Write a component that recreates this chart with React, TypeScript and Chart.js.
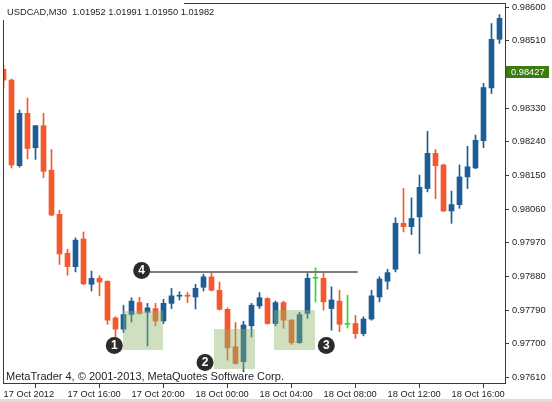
import React, { useEffect, useRef } from "react";
import { Chart, registerables } from "chart.js";

Chart.register(...registerables);

// ---- data (USDCAD, M30) ----
const times = (
  "17 Oct 12:00|17 Oct 12:30|17 Oct 13:00|17 Oct 13:30|17 Oct 14:00|17 Oct 14:30|17 Oct 15:00|17 Oct 15:30|" +
  "17 Oct 16:00|17 Oct 16:30|17 Oct 17:00|17 Oct 17:30|17 Oct 18:00|17 Oct 18:30|17 Oct 19:00|17 Oct 19:30|" +
  "17 Oct 20:00|17 Oct 20:30|17 Oct 21:00|17 Oct 21:30|17 Oct 22:00|17 Oct 22:30|17 Oct 23:00|17 Oct 23:30|" +
  "18 Oct 00:00|18 Oct 00:30|18 Oct 01:00|18 Oct 01:30|18 Oct 02:00|18 Oct 02:30|18 Oct 03:00|18 Oct 03:30|" +
  "18 Oct 04:00|18 Oct 04:30|18 Oct 05:00|18 Oct 05:30|18 Oct 06:00|18 Oct 06:30|18 Oct 07:00|18 Oct 07:30|" +
  "18 Oct 08:00|18 Oct 08:30|18 Oct 09:00|18 Oct 09:30|18 Oct 10:00|18 Oct 10:30|18 Oct 11:00|18 Oct 11:30|" +
  "18 Oct 12:00|18 Oct 12:30|18 Oct 13:00|18 Oct 13:30|18 Oct 14:00|18 Oct 14:30|18 Oct 15:00|18 Oct 15:30|" +
  "18 Oct 16:00|18 Oct 16:30|18 Oct 17:00|18 Oct 17:30|18 Oct 18:00|18 Oct 18:30|18 Oct 19:00"
).split("|");

const openP = [
  0.98434, 0.98405, 0.98176, 0.98316, 0.98224, 0.98283, 0.98164, 0.98046, 0.97942, 0.97906,
  0.9798, 0.97859, 0.97875, 0.97867, 0.97769, 0.97739, 0.97778, 0.9781, 0.97784, 0.97794,
  0.97761, 0.97808, 0.97827, 0.97829, 0.97825, 0.97851, 0.97879, 0.97843, 0.97792, 0.97692,
  0.97652, 0.97748, 0.97801, 0.97821, 0.97754, 0.9781, 0.97763, 0.97703, 0.97781, 0.97875,
  0.97875, 0.97794, 0.97814, 0.97752, 0.97754, 0.97727, 0.97766, 0.97825, 0.97867, 0.97899,
  0.98022, 0.98013, 0.98039, 0.98115, 0.98209, 0.98178, 0.98055, 0.98072, 0.98146, 0.9817,
  0.98243, 0.98384, 0.98514,
];
const highP = [
  0.98445, 0.98408, 0.98325, 0.98357, 0.98284, 0.98316, 0.98219, 0.98057, 0.97953, 0.97983,
  0.97999, 0.97894, 0.97882, 0.97868, 0.97772, 0.97803, 0.97823, 0.97824, 0.97808, 0.97808,
  0.97819, 0.97848, 0.97839, 0.97837, 0.97859, 0.97886, 0.97892, 0.97865, 0.97796, 0.97757,
  0.9776, 0.97808, 0.97837, 0.97823, 0.97814, 0.97814, 0.97765, 0.97784, 0.97888, 0.97903,
  0.97888, 0.97852, 0.97843, 0.9783, 0.97776, 0.97772, 0.97843, 0.97879, 0.97899, 0.98037,
  0.98115, 0.9809, 0.98151, 0.98268, 0.98219, 0.9818, 0.98108, 0.98178, 0.98228, 0.98258,
  0.98396, 0.98556, 0.9858,
];
const lowP = [
  0.98383, 0.9817, 0.98172, 0.98194, 0.98193, 0.98144, 0.98042, 0.97912, 0.97883, 0.97892,
  0.97858, 0.97841, 0.97828, 0.97752, 0.97714, 0.9773, 0.97758, 0.97779, 0.97694, 0.97748,
  0.97754, 0.97794, 0.97817, 0.9781, 0.97793, 0.97841, 0.97841, 0.9779, 0.97656, 0.97645,
  0.97625, 0.97718, 0.97794, 0.97752, 0.97748, 0.97741, 0.97698, 0.97701, 0.97768, 0.97812,
  0.9779, 0.97736, 0.97732, 0.97742, 0.97714, 0.97721, 0.97763, 0.97812, 0.97846, 0.97892,
  0.97999, 0.97992, 0.97941, 0.98106, 0.98088, 0.98053, 0.98022, 0.98062, 0.98115, 0.98168,
  0.98224, 0.98369, 0.98503,
];
const closeP = [
  0.98405, 0.98178, 0.98316, 0.98222, 0.98283, 0.98161, 0.98044, 0.9794, 0.97906, 0.97977,
  0.9786, 0.97875, 0.97865, 0.97763, 0.97739, 0.97778, 0.97814, 0.97781, 0.97796, 0.97761,
  0.97808, 0.97828, 0.97829, 0.97827, 0.97848, 0.97879, 0.97843, 0.97792, 0.97689, 0.97647,
  0.9775, 0.97803, 0.97823, 0.97754, 0.9781, 0.97763, 0.97703, 0.97778, 0.97875, 0.97875,
  0.97812, 0.97817, 0.97752, 0.97752, 0.97727, 0.97766, 0.97828, 0.97873, 0.9789, 0.98022,
  0.98013, 0.98035, 0.98118, 0.98209, 0.98176, 0.98055, 0.98072, 0.98146, 0.98173, 0.98244,
  0.98385, 0.98514, 0.9857,
];

const xTickCandles = ["17 Oct 12:00", "17 Oct 16:00", "17 Oct 20:00", "18 Oct 00:00", "18 Oct 04:00", "18 Oct 08:00", "18 Oct 12:00", "18 Oct 16:00"];
const xTickLabels = ["17 Oct 2012", "17 Oct 16:00", "17 Oct 20:00", "18 Oct 00:00", "18 Oct 04:00", "18 Oct 08:00", "18 Oct 12:00", "18 Oct 16:00"];
const yTickValues = [0.9761, 0.977, 0.9779, 0.9788, 0.9797, 0.9806, 0.9815, 0.9824, 0.9833, 0.9842, 0.9851, 0.986];

const headerText = "USDCAD,M30  1.01952 1.01991 1.01950 1.01982";
const watermark = "MetaTrader 4, \u00A9 2001-2013, MetaQuotes Software Corp.";
const currentPrice = 0.98427;

// annotation zones, in candle-number units and prices
const zoneStart = [15.94, 27.31, 34.81];
const zoneEnd = [20.94, 32.44, 39.94];
const zoneTop = [0.97787, 0.97739, 0.9779];
const zoneBottom = [0.97683, 0.97632, 0.97683];
const resistancePrice = 0.97892;
const resistanceFrom = 19.3;
const resistanceTo = 45.27;
const markerNums = ["1", "2", "3", "4"];
const markerPos = [14.85, 26.19, 41.35, 18.27];
const markerPrice = [0.97695, 0.9765, 0.97695, 0.97896];

const BULL = "#1c5d96";
const BEAR = "#f5582c";
const DOJI = "#33d633";
const FONT = "'Liberation Sans', Arial, sans-serif";
const NUM_SIZE = 9.3;

export default function App() {
  const ref = useRef<HTMLCanvasElement | null>(null);

  useEffect(() => {
    const canvas = ref.current;
    if (!canvas) return;
    const colors = openP.map((o, i) => (closeP[i] > o ? BULL : closeP[i] < o ? BEAR : DOJI));
    const idx = (t: string) => times.indexOf(t) + 1;

    const overlay = {
      id: "overlay",
      beforeDraw(chart: any) {
        const c = chart.ctx;
        c.save();
        c.fillStyle = "#ffffff";
        c.fillRect(0, 0, chart.width, chart.height);
        c.restore();
      },
      afterDatasetsDraw(chart: any) {
        const c = chart.ctx;
        const xs = chart.scales.x;
        const ys = chart.scales.y;
        c.save();
        c.fillStyle = "rgba(140,180,105,0.42)";
        zoneStart.forEach((s, i) => {
          const x1 = Math.round(xs.getPixelForValue(s));
          const x2 = Math.round(xs.getPixelForValue(zoneEnd[i]));
          const y1 = Math.round(ys.getPixelForValue(zoneTop[i]));
          const y2 = Math.round(ys.getPixelForValue(zoneBottom[i]));
          c.fillRect(x1, y1, x2 - x1, y2 - y1);
        });
        const ly = Math.round(ys.getPixelForValue(resistancePrice));
        c.strokeStyle = "#7a7a7a";
        c.lineWidth = 2;
        c.beginPath();
        c.moveTo(xs.getPixelForValue(resistanceFrom), ly);
        c.lineTo(xs.getPixelForValue(resistanceTo), ly);
        c.stroke();
        markerNums.forEach((n, i) => {
          const cx = xs.getPixelForValue(markerPos[i]);
          const cy = ys.getPixelForValue(markerPrice[i]);
          c.fillStyle = "#2b2b2b";
          c.beginPath();
          c.arc(cx, cy, 8.5, 0, Math.PI * 2);
          c.fill();
          c.fillStyle = "#ffffff";
          c.font = "bold 12px " + FONT;
          c.textAlign = "center";
          c.textBaseline = "middle";
          c.fillText(n, cx, cy + 0.5);
        });
        c.restore();
      },
      afterDraw(chart: any) {
        const c = chart.ctx;
        const a = chart.chartArea;
        const ys = chart.scales.y;
        c.save();
        c.strokeStyle = "#3a3a3a";
        c.lineWidth = 1;
        c.beginPath();
        c.moveTo(a.left + 0.5, a.bottom);
        c.lineTo(a.left + 0.5, 20);
        c.moveTo(184, a.top + 0.5);
        c.lineTo(a.right, a.top + 0.5);
        c.stroke();
        c.fillStyle = "#1e1e1e";
        c.textAlign = "left";
        c.textBaseline = "middle";
        c.font = NUM_SIZE + "px " + FONT;
        c.fillText(headerText, 7, 12.5);
        c.font = "11px " + FONT;
        c.fillText(watermark, 6, 376.5);
        const py = Math.round(ys.getPixelForValue(currentPrice));
        c.fillStyle = "#3b7b12";
        c.fillRect(a.right + 1, py - 6, 43, 12);
        c.fillStyle = "#ffffff";
        c.font = NUM_SIZE + "px " + FONT;
        c.fillText(currentPrice.toFixed(5), a.right + 6, py + 0.5);
        c.fillStyle = "#dcdcdc";
        c.fillRect(0, 399, chart.width, 3);
        c.restore();
      },
    };

    const chart = new Chart(canvas, {
      type: "bar",
      data: {
        datasets: [
          {
            label: "wick",
            data: times.map((_, i) => ({ x: i + 1, y: [lowP[i], highP[i]] })) as any,
            backgroundColor: colors,
            barThickness: 1,
            grouped: false,
            minBarLength: 1,
            order: 2,
          },
          {
            label: "body",
            data: times.map((_, i) => ({ x: i + 1, y: [openP[i], closeP[i]] })) as any,
            backgroundColor: colors,
            barThickness: 5,
            grouped: false,
            minBarLength: 1,
            order: 1,
          },
        ],
      },
      options: {
        animation: false,
        responsive: false,
        events: [],
        layout: { padding: { left: 3, top: 3, right: 0, bottom: 0 } },
        plugins: { legend: { display: false }, tooltip: { enabled: false } },
        scales: {
          x: {
            type: "linear",
            min: 0.9375,
            max: 63.6875,
            offset: false,
            grid: { drawOnChartArea: false, drawTicks: true, tickLength: 5, color: "#3a3a3a" },
            border: { display: true, color: "#3a3a3a" },
            afterBuildTicks: (s: any) => {
              s.ticks = xTickCandles.map((t) => ({ value: idx(t) }));
            },
            afterFit: (s: any) => {
              s.height = 19;
              s.paddingLeft = 0;
              s.paddingRight = 0;
            },
            ticks: {
              autoSkip: false,
              maxRotation: 0,
              minRotation: 0,
              align: "start",
              padding: 1,
              color: "#1e1e1e",
              font: { size: NUM_SIZE, family: FONT },
              callback: (_v: any, i: number) => xTickLabels[i],
            },
          } as any,
          y: {
            type: "linear",
            position: "right",
            min: 0.97595,
            max: 0.98611,
            grid: { drawOnChartArea: false, drawTicks: true, tickLength: 4, color: "#3a3a3a" },
            border: { display: true, color: "#3a3a3a" },
            afterBuildTicks: (s: any) => {
              s.ticks = yTickValues.map((v) => ({ value: v }));
            },
            afterFit: (s: any) => {
              s.width = 47;
              s.paddingTop = 0;
              s.paddingBottom = 0;
            },
            ticks: {
              padding: 3,
              color: "#1e1e1e",
              font: { size: NUM_SIZE, family: FONT },
              callback: (v: any) => Number(v).toFixed(5),
            },
          } as any,
        },
      },
      plugins: [overlay],
    });
    return () => chart.destroy();
  }, []);

  return (
    <div style={{ position: "absolute", left: 0, top: 0, width: 552, height: 402, background: "#fff" }}>
      <canvas ref={ref} width={552} height={402} style={{ display: "block", width: 552, height: 402 }} />
    </div>
  );
}
